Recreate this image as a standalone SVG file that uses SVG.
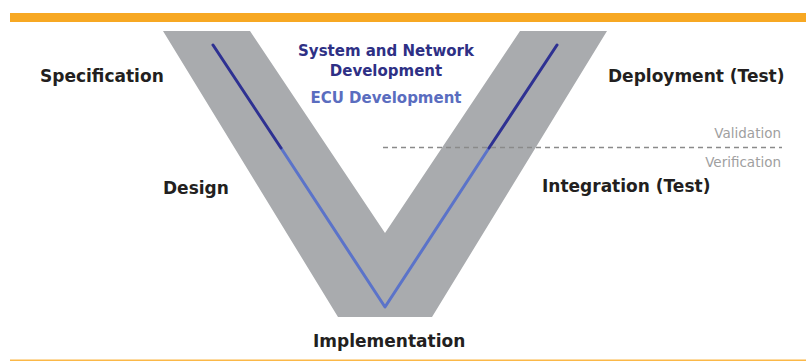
<svg xmlns="http://www.w3.org/2000/svg" width="806" height="361" viewBox="0 0 806 361">
<style>
.lbl{font-family:"DejaVu Sans","Liberation Sans",sans-serif;font-weight:bold;font-size:17px;fill:#231f20}
.ttl{font-family:"DejaVu Sans","Liberation Sans",sans-serif;font-weight:bold;font-size:15px;text-anchor:middle}
.sm{font-family:"DejaVu Sans","Liberation Sans",sans-serif;font-size:13.5px;fill:#a0a0a0;text-anchor:end}
.dark{stroke:#2e3192;stroke-width:3;fill:none;stroke-linecap:round}
.light{stroke:#5b73c9;stroke-width:3;fill:none;stroke-linejoin:round}
</style>
<rect width="806" height="361" fill="#ffffff"/>
<rect x="10" y="13" width="796" height="9" fill="#f7a823"/>
<rect x="10" y="359.5" width="796" height="1.5" fill="#fbb848"/>
<g id="v-shape">
<polygon points="163,31 250,31 385,233 520,31 607,31 432,317 338,317" fill="#a9abae"/>
</g>
<g id="connectors">
<polyline class="light" points="281,148 385,307 489,148"/>
<line class="dark" x1="213" y1="45" x2="281" y2="148"/>
<line class="dark" x1="557" y1="45" x2="489" y2="148"/>
<line x1="383" y1="147.5" x2="782" y2="147.5" stroke="#8a8a8a" stroke-width="1.5" stroke-dasharray="5,4"/>
</g>
<g id="specification"><text class="lbl" x="40" y="82">Specification</text></g>
<g id="design"><text class="lbl" x="163" y="194">Design</text></g>
<g id="implementation"><text class="lbl" x="313" y="347">Implementation</text></g>
<g id="integration"><text class="lbl" x="542" y="192">Integration (Test)</text></g>
<g id="deployment"><text class="lbl" x="608" y="82">Deployment (Test)</text></g>
<g id="title">
<text class="ttl" x="386" y="56" fill="#2e3085">System and Network</text>
<text class="ttl" x="386" y="76" fill="#2e3085">Development</text>
<text class="ttl" x="386" y="103" fill="#5a6dbf">ECU Development</text>
</g>
<g id="validation"><text class="sm" x="781" y="138">Validation</text></g>
<g id="verification"><text class="sm" x="781" y="167">Verification</text></g>
</svg>
